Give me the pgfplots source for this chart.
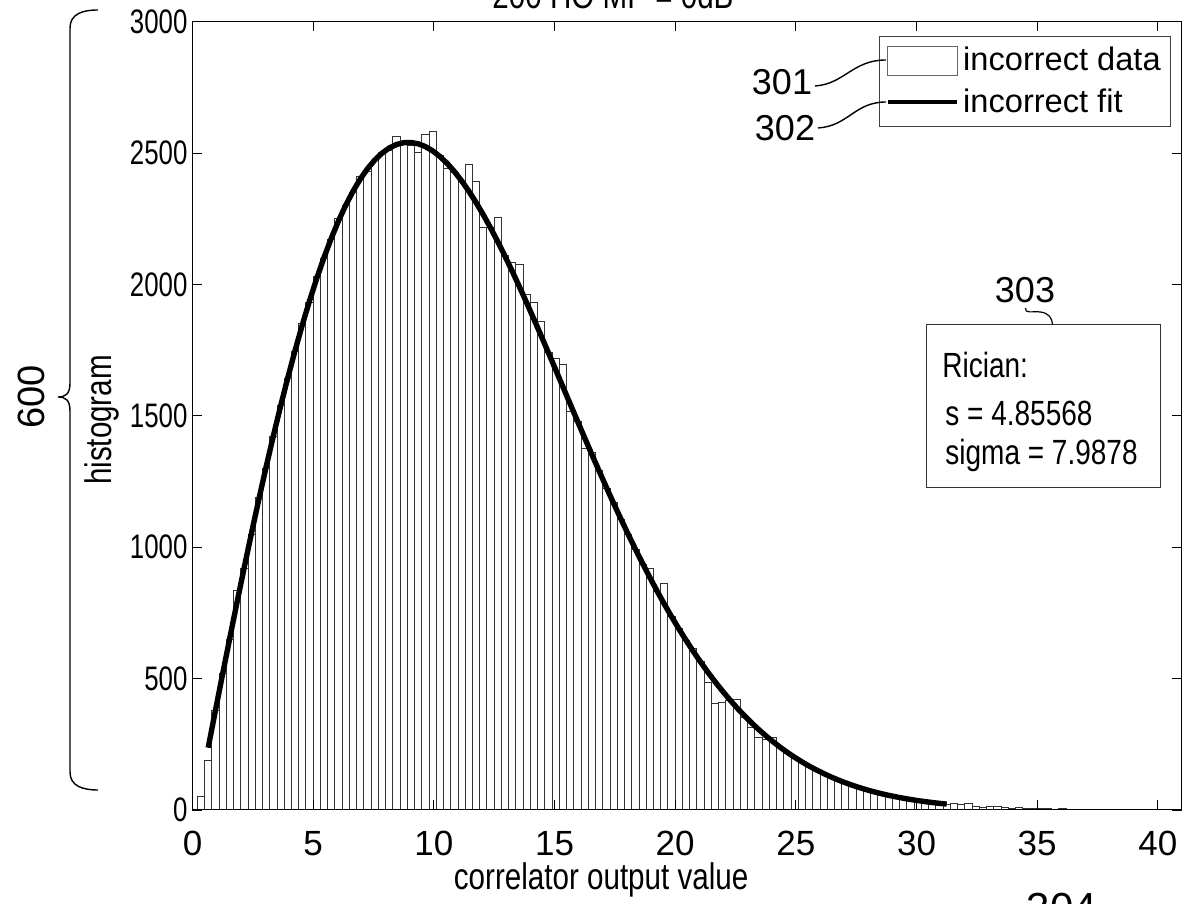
\documentclass[border=0pt]{standalone}
\usepackage{pgfplots}
\pgfplotsset{compat=1.18}
\usepackage{fontspec}
\setmainfont{Liberation Sans}
\newfontfamily\narrow[FakeStretch=0.8]{Liberation Sans}
\newfontfamily\ticknarrow[FakeStretch=0.76]{Liberation Sans}

% histogram counts: left bin edge, count (bin width 0.3, last row closes the interval)
\pgfplotstableread{
edge count
0.2 50
0.5 190
0.8 380
1.1 520
1.4 650
1.7 834
2.0 920
2.3 1050
2.6 1190
2.9 1300
3.2 1420
3.5 1540
3.8 1640
4.1 1745
4.4 1850
4.7 1930
5.0 2030
5.3 2100
5.6 2170
5.9 2250
6.2 2300
6.5 2350
6.8 2410
7.1 2430
7.4 2470
7.7 2500
8.0 2510
8.3 2563
8.6 2545
8.9 2530
9.2 2500
9.5 2570
9.8 2580
10.1 2490
10.4 2440
10.7 2427
11.0 2390
11.3 2457
11.6 2393
11.9 2215
12.2 2215
12.5 2253
12.8 2110
13.1 2085
13.4 2075
13.7 1960
14.0 1931
14.3 1858
14.6 1740
14.9 1718
15.2 1695
15.5 1517
15.8 1480
16.1 1377
16.4 1360
16.7 1290
17.0 1225
17.3 1170
17.6 1105
17.9 1050
18.2 990
18.5 935
18.8 918
19.1 830
19.4 861
19.7 735
20.0 690
20.3 645
20.6 614
20.9 565
21.2 485
21.5 406
21.8 410
22.1 417
22.4 421
22.7 353
23.0 315
23.3 277
23.6 270
23.9 275
24.2 238
24.5 216
24.8 200
25.1 183
25.4 167
25.7 152
26.0 139
26.3 126
26.6 114
26.9 104
27.2 94
27.5 85
27.8 72
28.1 69
28.4 62
28.7 56
29.0 50
29.3 45
29.6 40
29.9 36
30.2 32
30.5 28
30.8 25
31.1 22
31.4 25
31.7 20
32.0 24
32.3 14
32.6 10
32.9 15
33.2 12
33.5 8
33.8 7
34.1 9
34.4 5
34.7 6
35.0 4
35.3 5
35.6 3
35.9 4
36.2 2
36.5 3
36.8 2
37.1 1
37.4 2
37.7 1
38.0 3
38.3 1
38.6 0
38.9 1
39.2 0
39.5 0
39.8 1
40.1 0
40.4 1
40.7 0
41.0 0
}\histdata

% fitted Rician curve sampled at the bin centres
\pgfplotstableread{
x y
0.65 237.0
0.95 378.3
1.25 518.3
1.55 656.4
1.85 792.4
2.15 925.6
2.45 1055.7
2.75 1182.3
3.05 1304.9
3.35 1423.1
3.65 1536.6
3.95 1645.0
4.25 1748.2
4.55 1845.7
4.85 1937.4
5.15 2022.9
5.45 2102.2
5.75 2175.0
6.05 2241.4
6.35 2301.0
6.65 2354.0
6.95 2400.3
7.25 2439.8
7.55 2472.6
7.85 2498.8
8.15 2518.6
8.45 2531.8
8.75 2538.8
9.05 2539.7
9.35 2534.8
9.65 2524.1
9.95 2507.9
10.25 2486.6
10.55 2460.3
10.85 2429.3
11.15 2393.9
11.45 2354.5
11.75 2311.2
12.05 2264.6
12.35 2214.8
12.65 2162.0
12.95 2106.8
13.25 2049.4
13.55 1990.0
13.85 1929.1
14.15 1866.7
14.45 1803.4
14.75 1739.3
15.05 1674.6
15.35 1609.7
15.65 1544.8
15.95 1480.1
16.25 1415.9
16.55 1352.2
16.85 1289.4
17.15 1227.6
17.45 1166.8
17.75 1107.5
18.05 1049.4
18.35 992.8
18.65 938.0
18.95 884.6
19.25 833.1
19.55 783.5
19.85 735.6
20.15 689.8
20.45 645.7
20.75 603.5
21.05 563.3
21.35 524.9
21.65 488.4
21.95 453.7
22.25 420.9
22.55 389.7
22.85 360.5
23.15 332.9
23.45 307.1
23.75 282.8
24.05 260.2
24.35 238.8
24.65 219.0
24.95 200.5
25.25 183.3
25.55 167.3
25.85 152.5
26.15 138.8
26.45 126.1
26.75 114.5
27.05 103.7
27.35 93.9
27.65 84.8
27.95 76.5
28.25 68.9
28.55 62.0
28.85 55.7
29.15 50.0
29.45 44.8
29.75 40.1
30.05 35.8
30.35 31.9
30.65 28.5
30.95 25.3
31.25 22.5
}\fitdata

\begin{document}
\begin{tikzpicture}
\begin{axis}[
  at={(0pt,0pt)}, anchor=south west,
  scale only axis,
  width=494.75pt, height=394.25pt,
  xmin=0, xmax=41, ymin=0, ymax=3000,
  xtick={0,5,...,40},
  ytick={0,500,...,3000},
  tick align=inside,
  major tick length=5pt,
  tick style={black, line width=0.4pt},
  axis line style={black, line width=0.5pt},
  axis on top,
  scaled ticks=false,
  /pgf/number format/1000 sep={},
  /pgf/number format/assume math mode=true,
  xticklabel style={font=\fontsize{17.5}{20}\selectfont, yshift=-7pt},
  yticklabel style={font=\ticknarrow\fontsize{17}{20}\selectfont, xshift=1pt},
  xlabel={correlator output value},
  ylabel={histogram},
  xlabel style={font=\narrow\fontsize{18.5}{22}\selectfont,
    at={(axis description cs:0.413,-0.0888)}, anchor=center},
  ylabel style={font=\narrow\fontsize{18.5}{22}\selectfont,
    at={(axis description cs:-0.0915,0.4946)}, anchor=center},
  legend cell align=left,
  legend style={at={(axis description cs:0.6938,0.9818)}, anchor=north west,
    draw=black!75, line width=0.4pt, fill=white,
    font=\fontsize{16.3}{18}\selectfont,
    inner xsep=3pt, inner ysep=3.5pt, row sep=3.5pt},
]
\addplot[ybar interval, fill=white, draw=black!80, line width=0.45pt,
  legend image code/.code={\draw[black!60, line width=0.4pt, fill=white]
    (0pt,-7.25pt) rectangle (34.7pt,7.25pt);}]
  table[x=edge, y=count] {\histdata};
\addlegendentry{incorrect data}
\addplot[black, line width=2.7pt,
  legend image code/.code={\draw[black, line width=2.2pt]
    (0pt,0pt) -- (34.7pt,0pt);}]
  table[x=x, y=y] {\fitdata};
\addlegendentry{incorrect fit}
\end{axis}

% title, cut by the top edge of the figure
\node[font=\narrow\fontsize{18.5}{22}\selectfont] at (210.25pt,407.5pt) {200 HO MP = 0dB};

% reference numerals and leaders
\node[font=\fontsize{18}{20}\selectfont] at (294.75pt,364pt) {301};
\node[font=\fontsize{18}{20}\selectfont] at (296.25pt,341pt) {302};
\draw[line width=0.7pt] (311.25pt,362pt) .. controls (326pt,363pt) and (330pt,375pt) .. (346.75pt,375pt);
\draw[line width=0.7pt] (312.75pt,341pt) .. controls (328pt,342pt) and (331pt,354pt) .. (346.75pt,354pt);

% parameter box
\draw[black!80, line width=0.5pt, fill=white] (366.75pt,161pt) rectangle (483.75pt,242.5pt);
\node[anchor=west, inner sep=0pt, font=\narrow\fontsize{17.5}{20}\selectfont] at (374.75pt,222.5pt) {Rician:};
\node[anchor=west, inner sep=0pt, font=\narrow\fontsize{17.5}{20}\selectfont] at (376.25pt,198.5pt) {s = 4.85568};
\node[anchor=west, inner sep=0pt, font=\narrow\fontsize{17.5}{20}\selectfont] at (376.25pt,177.5pt) {sigma = 7.9878};
\node[font=\fontsize{18}{20}\selectfont] at (416.25pt,260pt) {303};
\draw[line width=0.6pt] (416.5pt,251pt) .. controls (416pt,248pt) and (420pt,249.5pt) .. (424pt,249pt)
  .. controls (428pt,248.5pt) and (430pt,246pt) .. (430pt,242.5pt);

% brace spanning the value axis
\draw[line width=0.7pt] (-47.25pt,400pt) .. controls (-55pt,400pt) and (-61.25pt,398pt) .. (-61.25pt,391pt)
  -- (-61.25pt,213.5pt) .. controls (-61.25pt,208pt) and (-63.5pt,206.5pt) .. (-67.25pt,206.5pt)
  .. controls (-63.5pt,206.5pt) and (-61.25pt,205pt) .. (-61.25pt,199.5pt)
  -- (-61.25pt,19pt) .. controls (-61.25pt,12pt) and (-55pt,10pt) .. (-47.25pt,10pt);
\node[rotate=90, font=\fontsize{19}{22}\selectfont] at (-80.75pt,206.5pt) {600};

% numeral cut by the bottom edge
\node[font=\fontsize{21}{24}\selectfont] at (434.75pt,-49pt) {304};

\pgfresetboundingbox
\useasboundingbox (-96.25pt,-47pt) rectangle (498.25pt,405pt);
\end{tikzpicture}
\end{document}
